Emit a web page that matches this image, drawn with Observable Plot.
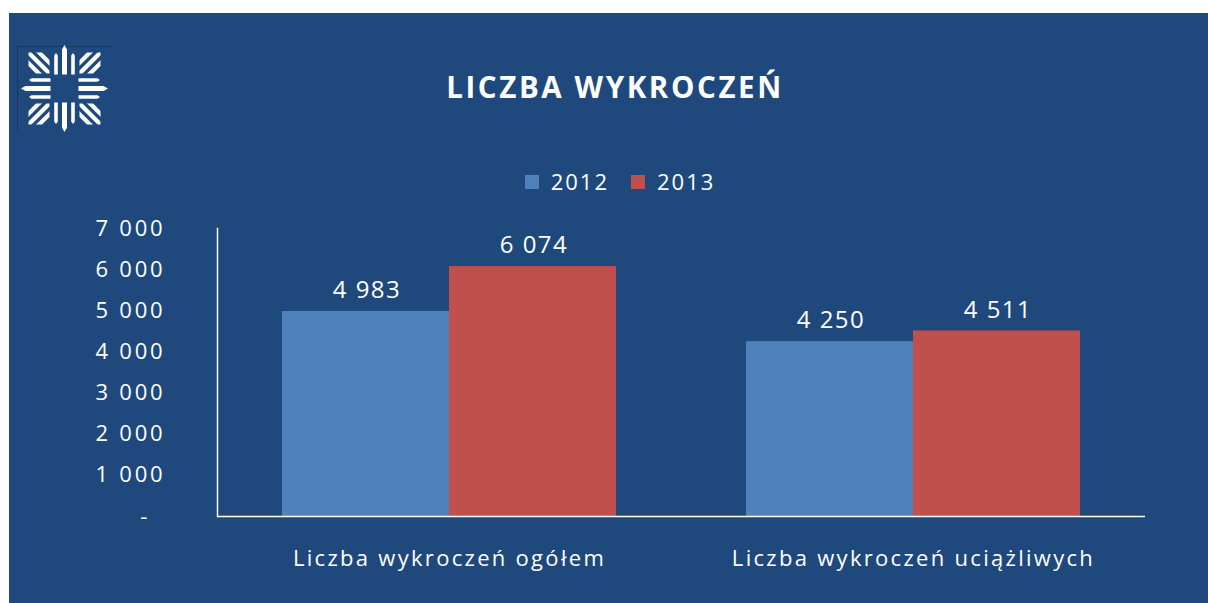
<!DOCTYPE html>
<html>
<head>
<meta charset="utf-8">
<script src="https://cdn.jsdelivr.net/npm/d3@7"></script>
<script src="https://cdn.jsdelivr.net/npm/@observablehq/plot@0.6"></script>
<style>
  html, body { margin: 0; padding: 0; background: #ffffff; }
  #panel { position: absolute; left: 9px; top: 13px; width: 1199px; height: 590px; background: #1F497D; overflow: hidden; font-family: "Open Sans", sans-serif; color: #ffffff; }
  #logo { position: absolute; left: 0; top: 0; }
  #title { position: absolute; left: 0; width: 1212px; top: 53px; text-align: center; font-size: 29.5px; font-weight: bold; letter-spacing: 2.6px; line-height: normal; white-space: nowrap; }
  #legend { position: absolute; left: 0; width: 1222px; top: 153px; display: flex; justify-content: center; gap: 22px; font-size: 22px; letter-spacing: 2px; line-height: normal; }
  #legend .item { display: flex; align-items: center; }
  #legend .sw { width: 14px; height: 14px; margin-right: 12px; margin-top: 1px; }
  #chart { position: absolute; left: 0; top: 197px; }
  #chart svg { letter-spacing: 1.5px; }
  #chart svg g[aria-label="y-axis tick label"] { letter-spacing: 2.8px; }
  #chart svg g[aria-label="fx-axis tick label"] { letter-spacing: 2.3px; }
  #chart svg g[aria-label="text"] { letter-spacing: 1.5px; }
</style>
</head>
<body>
<div id="panel">
  <svg id="logo" width="120" height="130"></svg>
  <div id="title"></div>
  <div id="legend"></div>
  <div id="chart"></div>
</div>
<script>
// ---- data ----
const titleText = "LICZBA WYKROCZEŃ";
const categories = ["Liczba wykroczeń ogółem", "Liczba wykroczeń uciążliwych"];
const years = ["2012", "2013"];
const values2012 = [4983, 4250];
const values2013 = [6074, 4511];
const yTicks = [0, 1000, 2000, 3000, 4000, 5000, 6000, 7000];
const yearColors = ["#4F81BD", "#C0504D"];

const seriesValues = {"2012": values2012, "2013": values2013};
const data = categories.flatMap((c, i) => years.map(y => ({category: c, year: y, value: seriesValues[y][i]})));

const fmt = v => v === 0 ? "-\u2007" : d3.format(",")(v).replace(/,/g, "\u00a0");

// ---- title ----
document.getElementById("title").textContent = titleText;

// ---- legend ----
const legend = document.getElementById("legend");
years.forEach((y, i) => {
  const item = document.createElement("div");
  item.className = "item";
  const sw = document.createElement("span");
  sw.className = "sw";
  sw.style.background = yearColors[i];
  const lab = document.createElement("span");
  lab.textContent = y;
  item.appendChild(sw); item.appendChild(lab);
  legend.appendChild(item);
});

// ---- logo (decorative) ----
(function drawLogo() {
  const svg = d3.select("#logo");
  svg.append("path").attr("d", "M8.5,117 V33.5 H103").attr("fill", "none").attr("stroke", "#17375e").attr("stroke-width", 1);
  const g = svg.append("g").attr("transform", "translate(55.5,75.5)").attr("fill", "#ffffff");
  for (let k = 0; k < 4; k++) {
    const r = g.append("g").attr("transform", `rotate(${k * 90})`);
    // cardinal arm: centre bar pointed, two side bars
    r.append("path").attr("d", "M-2.5,-14 L2.5,-14 L2.5,-39 L0,-43.5 L-2.5,-39 Z");
    r.append("path").attr("d", "M-10.3,-14 L-6.7,-14 L-6.7,-33 L-8.5,-35.5 L-10.3,-33 Z");
    r.append("path").attr("d", "M6.7,-14 L10.3,-14 L10.3,-33 L8.5,-35.5 L6.7,-33 Z");
    // diagonal quadrant: three 45° stripes clipped to a square
    const id = "lc" + k;
    r.append("clipPath").attr("id", id).attr("clipPathUnits", "userSpaceOnUse")
      .append("rect").attr("x", -36).attr("y", -36).attr("width", 21).attr("height", 21);
    const q = r.append("g").attr("clip-path", `url(#${id})`)
      .append("g").attr("transform", "translate(-25.5,-25.5) rotate(45)");
    [-7.5, 0, 7.5].forEach(o => q.append("rect").attr("x", -20).attr("y", o - 2.1).attr("width", 40).attr("height", 4.2));
  }
})();

// ---- chart ----
const chart = Plot.plot({
  width: 1199,
  height: 380,
  marginLeft: 208,
  marginRight: 63,
  marginTop: 18,
  marginBottom: 74,
  style: {background: "transparent", color: "#ffffff", fontFamily: "Open Sans, sans-serif", overflow: "visible"},
  fx: {domain: categories, paddingInner: 0, paddingOuter: 0, label: null},
  x: {domain: years, paddingInner: 0, paddingOuter: 0.381, axis: null},
  y: {domain: [0, 7000], label: null},
  color: {domain: years, range: yearColors},
  marks: [
    Plot.barY(data, {fx: "category", x: "year", y: "value", fill: "year"}),
    Plot.text(data, {fx: "category", x: "year", y: "value", text: d => fmt(d.value), dy: -21, dx: 1, fill: "#ffffff", fontSize: 24}),
    Plot.ruleY([0], {stroke: "#ffffff", strokeWidth: 1.5}),
    Plot.frame({anchor: "left", stroke: "#ffffff", strokeWidth: 1.5, fx: [categories[0]]}),
    Plot.axisY({ticks: yTicks, tickFormat: fmt, tickSize: 0, tickPadding: 52, fontSize: 22, fill: "#ffffff", label: null}),
    Plot.axisFx({anchor: "bottom", tickSize: 0, tickPadding: 34, fontSize: 22, fill: "#ffffff", label: null})
  ]
});
document.getElementById("chart").appendChild(chart);
</script>
</body>
</html>
